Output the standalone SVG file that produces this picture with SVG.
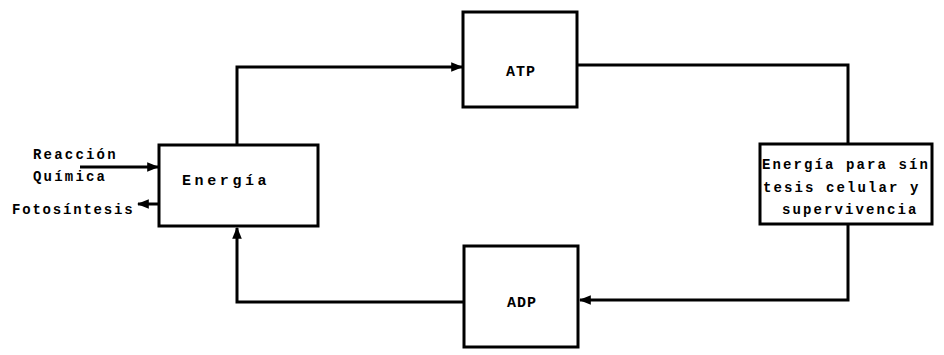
<svg xmlns="http://www.w3.org/2000/svg" width="944" height="355" viewBox="0 0 944 355">
<style>
.box{fill:#fff;stroke:#000;stroke-width:3}
.ln{fill:none;stroke:#000;stroke-width:3}
.t{font-family:"Liberation Mono","DejaVu Sans Mono",monospace;font-weight:bold;fill:#000}
</style>
<defs>
<marker id="ah" viewBox="0 0 10 10" refX="9" refY="5" markerWidth="4" markerHeight="4" orient="auto" markerUnits="strokeWidth">
<path d="M0,1 L10,5 L0,9 Z" fill="#000"/>
</marker>
</defs>
<rect width="944" height="355" fill="#fff"/>
<g id="connectors">
<path class="ln" d="M237,145 V67 H462" marker-end="url(#ah)"/>
<path class="ln" d="M577,65 H848 V144"/>
<path class="ln" d="M848,224 V300 H580" marker-end="url(#ah)"/>
<path class="ln" d="M464,302 H237 V228" marker-end="url(#ah)"/>
<path class="ln" d="M80,167 H158" marker-end="url(#ah)"/>
<path class="ln" d="M159,204 H138" marker-end="url(#ah)"/>
</g>
<g id="energia">
<rect class="box" x="159" y="145" width="159" height="81"/>
<text class="t" x="182" y="185" font-size="15" letter-spacing="3.6">Energía</text>
</g>
<g id="atp">
<rect class="box" x="463" y="12" width="114" height="95"/>
<text class="t" x="521" y="76" font-size="15" letter-spacing="1" text-anchor="middle">ATP</text>
</g>
<g id="adp">
<rect class="box" x="464" y="246" width="114" height="101"/>
<text class="t" x="522" y="307" font-size="15" letter-spacing="1" text-anchor="middle">ADP</text>
</g>
<g id="sintesis">
<rect class="box" x="760" y="144" width="172" height="80"/>
<text class="t" font-size="14" letter-spacing="2.1">
<tspan x="762" y="169">Energía para sín</tspan>
<tspan x="763" y="192">tesis celular y</tspan>
<tspan x="782" y="214">supervivencia</tspan>
</text>
</g>
<g id="entradas">
<text class="t" x="33" y="159" font-size="14" letter-spacing="2.2">Reacción</text>
<text class="t" x="33" y="181" font-size="14" letter-spacing="2.2">Química</text>
<text class="t" x="12" y="214" font-size="14" letter-spacing="1.8">Fotosíntesis</text>
</g>
</svg>
